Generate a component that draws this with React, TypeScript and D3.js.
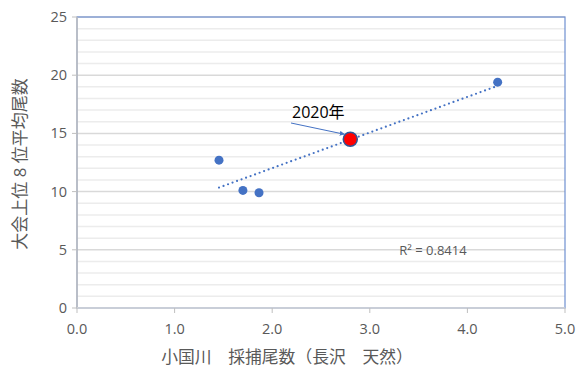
import React from "react";
import * as d3 from "d3";

// Catch (x) vs. tournament top-8 average (y)
const catchValues = [1.455, 1.7, 1.865, 2.8, 4.31];
const top8Average = [12.7, 10.1, 9.9, 14.5, 19.4];
const highlightIndex = 3; // 2020
const highlightLabel = "2020年";
const rSquared = 0.8414;
const xTicks = [0, 1, 2, 3, 4, 5];
const yTicks = [0, 5, 10, 15, 20, 25];
const xTitle = "小国川　採捕尾数（長沢　天然）";
const yTitle = "大会上位 8 位平均尾数";

const W = 584;
const H = 372;
const left = 77;
const right = 565;
const top = 17;
const bottom = 308;

const FONT = "'Open Sans', 'Noto Sans', 'Noto Sans CJK JP', sans-serif";
const TEXT = "#595959";
const BLUE = "#4472c4";

function regression(xs: number[], ys: number[]) {
  const mx = d3.mean(xs)!;
  const my = d3.mean(ys)!;
  let sxy = 0, sxx = 0;
  for (let i = 0; i < xs.length; i++) {
    sxy += (xs[i] - mx) * (ys[i] - my);
    sxx += (xs[i] - mx) ** 2;
  }
  const slope = sxy / sxx;
  return { slope, intercept: my - slope * mx };
}

export default function App() {
  const x = d3.scaleLinear().domain([0, 5]).range([left, right]);
  const y = d3.scaleLinear().domain([0, 25]).range([bottom, top]);
  const fit = regression(catchValues, top8Average);
  const x0 = d3.min(catchValues)!;
  const x1 = d3.max(catchValues)!;
  const minor = d3.range(1, 25).filter((v) => v % 5 !== 0);

  const hx = x(catchValues[highlightIndex]);
  const hy = y(top8Average[highlightIndex]);

  return (
    <svg width={W} height={H} style={{ position: "absolute", left: 0, top: 0, background: "#fff" }}>
      <defs>
        <marker id="arrow" viewBox="0 0 10 10" refX="9" refY="5" markerWidth="5" markerHeight="5" orient="auto">
          <path d="M0,0 L10,5 L0,10 z" fill={BLUE} />
        </marker>
      </defs>
      {minor.map((v) => (
        <line key={"m" + v} x1={left} x2={right} y1={y(v)} y2={y(v)} stroke="#ececec" strokeWidth={1.5} />
      ))}
      {yTicks.map((v) => (
        <line key={"g" + v} x1={left} x2={right} y1={y(v)} y2={y(v)} stroke="#d9d9d9" strokeWidth={1.5} />
      ))}
      {/* plot area border */}
      <rect x={left} y={top} width={right - left} height={bottom - top} fill="none" stroke="#6f8fd0" strokeWidth={1.2} />
      {/* axes */}
      <line x1={left} x2={left} y1={top} y2={bottom} stroke="#bfbfbf" strokeWidth={1.5} />
      <line x1={left} x2={right} y1={bottom} y2={bottom} stroke="#d9d9d9" strokeWidth={1.5} />
      {yTicks.map((v) => (
        <g key={"yt" + v}>
          <line x1={left - 5} x2={left} y1={y(v)} y2={y(v)} stroke="#bfbfbf" />
          <text x={67} y={y(v)} dy="0.35em" textAnchor="end" fontSize={14.5} fill={TEXT} fontFamily={FONT}>
            {v}
          </text>
        </g>
      ))}
      {xTicks.map((v) => (
        <g key={"xt" + v}>
          <line x1={x(v)} x2={x(v)} y1={bottom} y2={bottom + 5} stroke="#bfbfbf" />
          <text x={x(v)} y={334} textAnchor="middle" fontSize={14.5} fill={TEXT} fontFamily={FONT}>
            {v.toFixed(1)}
          </text>
        </g>
      ))}
      <text x={287} y={363} textAnchor="middle" fontSize={16.8} fill={TEXT} fontFamily={FONT}>
        {xTitle}
      </text>
      <text
        transform={`translate(26,164) rotate(-90)`}
        textAnchor="middle"
        fontSize={17}
        fill={TEXT}
        fontFamily={FONT}
      >
        {yTitle}
      </text>
      {/* linear trendline */}
      <line
        x1={x(x0)}
        x2={x(x1)}
        y1={y(fit.intercept + fit.slope * x0)}
        y2={y(fit.intercept + fit.slope * x1)}
        stroke={BLUE}
        strokeWidth={2.2}
        strokeLinecap="round"
        strokeDasharray="0 4.8"
      />
      {catchValues.map((v, i) =>
        i === highlightIndex ? (
          <circle key={i} cx={x(v)} cy={y(top8Average[i])} r={7} fill="#ff0000" stroke="#2f5597" strokeWidth={1.5} />
        ) : (
          <circle key={i} cx={x(v)} cy={y(top8Average[i])} r={4.5} fill={BLUE} />
        )
      )}
      {/* annotation */}
      <line x1={291} y1={123} x2={hx - 6} y2={hy - 5} stroke={BLUE} strokeWidth={1} markerEnd="url(#arrow)" />
      <text x={292} y={118} fontSize={16} fill="#000" fontFamily={FONT}>
        {highlightLabel}
      </text>
      <text x={433} y={250} dy="0.35em" textAnchor="middle" fontSize={13} fill={TEXT} fontFamily={FONT}>
        R² = {rSquared.toFixed(4)}
      </text>
    </svg>
  );
}
